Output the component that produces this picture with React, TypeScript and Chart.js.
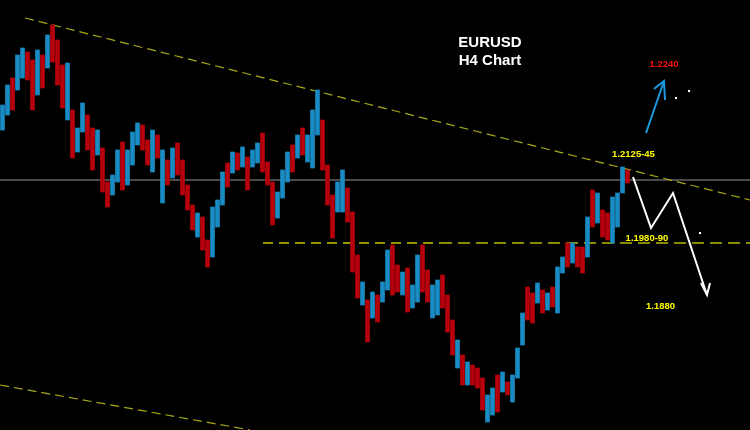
import React, { useEffect, useRef } from "react";
import { Chart, registerables } from "chart.js";

Chart.register(...registerables);

// H4 candles (high / low, EURUSD) and direction (1 = up/blue, 0 = down/red)
const highs = [
  1.2261, 1.2301, 1.2315, 1.2361, 1.2375, 1.2367, 1.2351, 1.2371, 1.2361, 1.2401,
  1.2421, 1.2391, 1.2341, 1.2345, 1.2251, 1.2215, 1.2265, 1.2241, 1.2215, 1.2211,
  1.2175, 1.2107, 1.2121, 1.2171, 1.2187, 1.2171, 1.2207, 1.2225, 1.2221, 1.2191,
  1.2211, 1.2201, 1.2171, 1.2151, 1.2175, 1.2185, 1.2151, 1.2101, 1.2061, 1.2045,
  1.2037, 1.1991, 1.2057, 1.2071, 1.2127, 1.2145, 1.2167, 1.2165, 1.2177, 1.2157,
  1.2171, 1.2185, 1.2205, 1.2147, 1.2107, 1.2087, 1.2131, 1.2167, 1.2181, 1.2201,
  1.2215, 1.2201, 1.2251, 1.2291, 1.2231, 1.2141, 1.2081, 1.2107, 1.2131, 1.2095,
  1.2047, 1.1961, 1.1907, 1.1871, 1.1887, 1.1881, 1.1907, 1.1971, 1.1981, 1.1941,
  1.1927, 1.1935, 1.1901, 1.1961, 1.1981, 1.1931, 1.1901, 1.1911, 1.1921, 1.1881,
  1.1831, 1.1791, 1.1761, 1.1747, 1.1741, 1.1735, 1.1715, 1.1681, 1.1695, 1.1721,
  1.1727, 1.1707, 1.1721, 1.1775, 1.1845, 1.1897, 1.1885, 1.1905, 1.1891, 1.1885,
  1.1897, 1.1937, 1.1957, 1.1985, 1.1985, 1.1977, 1.1977, 1.2037, 1.2091, 1.2085,
  1.2051, 1.2045, 1.2077, 1.2085, 1.2137, 1.2131,
];
const lows = [
  1.2211, 1.2241, 1.2251, 1.2291, 1.2315, 1.2311, 1.2251, 1.2281, 1.2295, 1.2335,
  1.2347, 1.2301, 1.2255, 1.2231, 1.2155, 1.2167, 1.2207, 1.2171, 1.2131, 1.2161,
  1.2087, 1.2057, 1.2081, 1.2107, 1.2091, 1.2101, 1.2141, 1.2181, 1.2171, 1.2141,
  1.2127, 1.2155, 1.2065, 1.2101, 1.2115, 1.2121, 1.2081, 1.2051, 1.2011, 1.1997,
  1.1971, 1.1937, 1.1957, 1.2017, 1.2061, 1.2097, 1.2125, 1.2131, 1.2137, 1.2091,
  1.2137, 1.2145, 1.2127, 1.2101, 1.2021, 1.2035, 1.2075, 1.2107, 1.2127, 1.2155,
  1.2161, 1.2147, 1.2135, 1.2201, 1.2131, 1.2061, 1.1995, 1.2047, 1.2047, 1.2027,
  1.1927, 1.1875, 1.1861, 1.1787, 1.1835, 1.1827, 1.1867, 1.1891, 1.1881, 1.1887,
  1.1881, 1.1847, 1.1855, 1.1867, 1.1887, 1.1867, 1.1835, 1.1841, 1.1855, 1.1807,
  1.1761, 1.1735, 1.1701, 1.1701, 1.1701, 1.1695, 1.1651, 1.1627, 1.1641, 1.1647,
  1.1687, 1.1681, 1.1667, 1.1715, 1.1781, 1.1831, 1.1825, 1.1865, 1.1845, 1.1851,
  1.1857, 1.1845, 1.1925, 1.1937, 1.1945, 1.1937, 1.1925, 1.1957, 1.2017, 1.2025,
  1.1997, 1.1991, 1.1985, 1.2017, 1.2085, 1.2105,
];
const bullish = [
  1, 1, 0, 1, 1, 0, 0, 1, 0, 1,
  0, 0, 0, 1, 0, 1, 1, 0, 0, 1,
  0, 0, 1, 1, 0, 1, 1, 1, 0, 0,
  1, 0, 1, 0, 1, 0, 0, 0, 0, 1,
  0, 0, 1, 1, 1, 0, 1, 0, 1, 0,
  1, 1, 0, 0, 0, 1, 1, 1, 0, 1,
  0, 1, 1, 1, 0, 0, 0, 1, 1, 0,
  0, 0, 1, 0, 1, 0, 1, 1, 0, 0,
  1, 0, 1, 1, 0, 0, 1, 1, 0, 0,
  0, 1, 0, 1, 0, 0, 0, 1, 1, 0,
  1, 0, 1, 1, 1, 0, 0, 1, 0, 1,
  0, 1, 1, 0, 1, 0, 0, 1, 0, 1,
  0, 0, 1, 1, 1, 0,
];

// Drawn lines (x in bar index, y in price)
const upperTrend = [{ x: 4.5, y: 1.2435 }, { x: 149.5, y: 1.2071 }];
const lowerTrend = [{ x: -0.5, y: 1.1701 }, { x: 49.5, y: 1.1611 }];
const supportNear = [{ x: 52.1, y: 1.1985 }, { x: 87.5, y: 1.1985 }];
const supportFar = [{ x: 87.5, y: 1.1985 }, { x: 149.5, y: 1.1985 }];
const priceLine = [{ x: -0.5, y: 1.2111 }, { x: 149.5, y: 1.2111 }];
const bearPath = [
  { x: 126.1, y: 1.2117 }, { x: 129.7, y: 1.2015 }, { x: 134.1, y: 1.2085 }, { x: 140.9, y: 1.1881 },
];
const bearHead = [{ x: 139.7, y: 1.1905 }, { x: 140.9, y: 1.1881 }, { x: 141.5, y: 1.1905 }];
const bullPath = [{ x: 128.7, y: 1.2205 }, { x: 132.3, y: 1.2309 }];
const bullHead = [{ x: 130.3, y: 1.2293 }, { x: 132.3, y: 1.2309 }, { x: 132.5, y: 1.2271 }];
const dots = [{ x: 134.7, y: 1.2275 }, { x: 137.3, y: 1.2289 }, { x: 139.5, y: 1.2005 }];

const textLabels = [
  { text: "EURUSD", x: 97.5, y: 1.2377, font: "bold 15px 'Liberation Sans', Arial", color: "#ffffff" },
  { text: "H4 Chart", x: 97.5, y: 1.2341, font: "bold 15px 'Liberation Sans', Arial", color: "#ffffff" },
  { text: "1.2240", x: 132.3, y: 1.2337, font: "bold 9.5px 'Liberation Sans', Arial", color: "#ff1010" },
  { text: "1.2125-45", x: 126.2, y: 1.2157, font: "bold 9.5px 'Liberation Sans', Arial", color: "#ffff00" },
  { text: "1.1980-90", x: 128.9, y: 1.1989, font: "bold 9.5px 'Liberation Sans', Arial", color: "#ffff00" },
  { text: "1.1880", x: 131.6, y: 1.1853, font: "bold 9.5px 'Liberation Sans', Arial", color: "#ffff00" },
];

const labelPlugin = {
  id: "labelPlugin",
  afterDatasetsDraw(chart: any) {
    const { ctx, scales } = chart;
    ctx.save();
    ctx.textAlign = "center";
    ctx.textBaseline = "alphabetic";
    for (const l of textLabels) {
      ctx.font = l.font;
      ctx.fillStyle = l.color;
      ctx.fillText(l.text, scales.x.getPixelForValue(l.x), scales.y.getPixelForValue(l.y));
    }
    ctx.restore();
  },
};

const lineDs = (data: any[], color: string, width: number, dash: number[] = [], order = 2) => ({
  type: "line" as const,
  data,
  borderColor: color,
  borderWidth: width,
  borderDash: dash,
  pointRadius: 0,
  pointHoverRadius: 0,
  fill: false,
  tension: 0,
  order,
});

export default function App() {
  const ref = useRef<HTMLCanvasElement>(null);
  useEffect(() => {
    document.body.style.margin = "0";
    document.body.style.background = "#000";
    const candles = highs.map((h, i) => ({ x: i, y: [lows[i], h] }));
    const chart = new Chart(ref.current as HTMLCanvasElement, {
      type: "bar",
      data: {
        datasets: [
          lineDs(priceLine, "#4a4a4a", 2, [], 5),
          lineDs(upperTrend, "#a8a818", 1.2, [9, 5], 4),
          lineDs(lowerTrend, "#a8a818", 1.2, [9, 5], 4),
          lineDs(supportNear, "#c8c800", 1.5, [10, 6], 4),
          lineDs(supportFar, "#8a8a00", 2, [12, 6], 4),
          {
            type: "bar" as const,
            data: candles as any,
            backgroundColor: bullish.map((b) => (b ? "#1a8cc4" : "#b8000c")),
            barThickness: 4,
            grouped: false,
            order: 3,
          },
          lineDs(bearPath, "#ffffff", 2, [], 0),
          lineDs(bearHead, "#ffffff", 2, [], 0),
          lineDs(bullPath, "#1e9be0", 2, [], 0),
          lineDs(bullHead, "#1e9be0", 2, [], 0),
          {
            type: "scatter" as const,
            data: dots,
            pointStyle: "rect",
            pointRadius: 1.5,
            pointHoverRadius: 1.5,
            backgroundColor: "#ffffff",
            borderWidth: 0,
            order: 0,
          } as any,
        ] as any,
      },
      options: {
        responsive: false,
        animation: false,
        layout: { padding: 0, autoPadding: false },
        plugins: { legend: { display: false }, tooltip: { enabled: false } },
        scales: {
          x: { type: "linear", min: -0.5, max: 149.5, offset: false, grid: { offset: false }, display: false },
          y: { type: "linear", min: 1.1611, max: 1.2471, display: false },
        },
      },
      plugins: [labelPlugin],
    });
    return () => chart.destroy();
  }, []);
  return (
    <div style={{ width: 750, height: 430, background: "#000" }}>
      <canvas ref={ref} width={750} height={430} />
    </div>
  );
}
